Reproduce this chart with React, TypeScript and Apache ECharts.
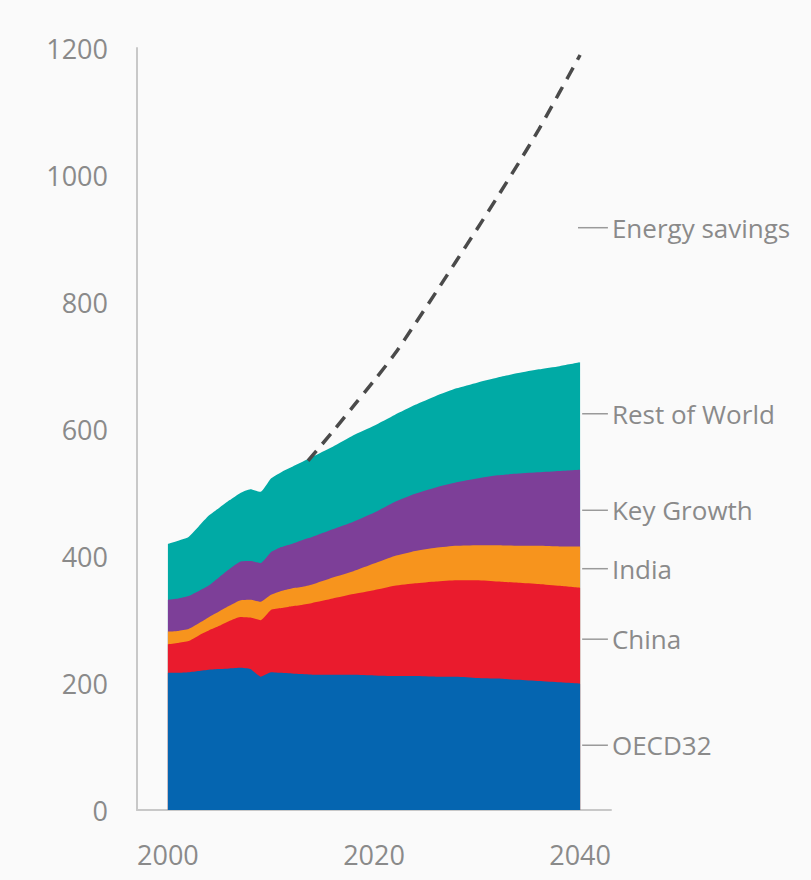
import React, { useEffect, useRef } from "react";
import * as echarts from "echarts";

const years = [2000, 2001, 2002, 2003, 2004, 2005, 2006, 2007, 2008, 2009, 2010, 2011, 2012, 2013, 2014, 2016, 2018, 2020, 2022, 2024, 2026, 2028, 2030, 2032, 2034, 2036, 2038, 2040];
const oecd32 = [216, 216, 217, 219, 221, 222, 223, 224, 222, 210, 217, 216, 215, 214, 213, 213, 213, 212, 211, 211, 210, 210, 208, 207, 205, 203, 201, 199];
const china = [45, 47, 49, 56, 62, 68, 75, 80, 81, 89, 98, 102, 106, 109, 113, 120, 127, 134, 142, 146, 150, 152, 154, 153, 153, 153, 152, 151];
const india = [20, 19, 19, 19, 21, 23, 24, 26, 28, 29, 24, 27, 28, 28, 29, 33, 36, 42, 47, 51, 53, 54, 55, 57, 58, 60, 62, 65];
const keyGrowth = [50, 51, 52, 51, 50, 54, 58, 61, 61, 61, 67, 69, 70, 74, 75, 76, 78, 80, 85, 90, 95, 100, 105, 110, 114, 116, 119, 121];
const restOfWorld = [88, 91, 93, 102, 110, 109, 108, 108, 113, 112, 116, 118, 121, 123, 126, 130, 136, 137, 137, 140, 144, 148, 151, 154, 158, 162, 165, 169];

const savingsYears = [2013.6, 2016, 2018, 2020, 2022, 2024, 2026, 2028, 2030, 2032, 2034, 2036, 2038, 2040];
const savingsValues = [550, 596, 636, 676, 718, 766, 815, 865, 915, 966, 1018, 1072, 1130, 1189];

const yTicks = [0, 200, 400, 600, 800, 1000, 1200];
const xTicks = [2000, 2020, 2040];

const labelNames = ["Energy savings", "Rest of World", "Key Growth", "India", "China", "OECD32"];
const labelValues = [917, 624, 472, 380, 269, 102];

const seriesNames = ["OECD32", "China", "India", "Key Growth", "Rest of World"];
const seriesColors = ["#0565b0", "#ea1b2d", "#f7941d", "#7d3f98", "#00aaa5"];

const FONT = "'Open Sans', 'DejaVu Sans', sans-serif";

export default function App() {
  const ref = useRef<HTMLDivElement>(null);
  useEffect(() => {
    if (!ref.current) return;
    const chart = echarts.init(ref.current, undefined, { renderer: "svg" });
    const stackData = [oecd32, china, india, keyGrowth, restOfWorld];
    // cumulative totals, built from the arrays above
    const cumulative: number[][] = [];
    stackData.forEach((arr, i) => {
      cumulative.push(arr.map((v, j) => v + (i > 0 ? cumulative[i - 1][j] : 0)));
    });
    const series: any[] = [];
    for (let i = stackData.length - 1; i >= 0; i--) {
      series.push({
        name: seriesNames[i],
        type: "line",
        data: years.map((y, j) => [y, cumulative[i][j]]),
        showSymbol: false,
        symbol: "none",
        lineStyle: { width: 0 },
        areaStyle: { color: seriesColors[i], opacity: 1, origin: "start" },
        itemStyle: { color: seriesColors[i] },
        smooth: 0.15,
        z: 2,
      });
    }
    series.push({
      name: "Energy savings",
      type: "line",
      data: savingsYears.map((y, j) => [y, savingsValues[j]]),
      showSymbol: false,
      symbol: "none",
      smooth: 0.3,
      lineStyle: { color: "#4a4a4a", width: 3.5, type: [13, 9] },
      z: 3,
    });
    chart.setOption({
      animation: false,
      backgroundColor: "#fafafa",
      grid: { left: 137, right: 200, top: 48, bottom: 70 },
      xAxis: {
        type: "value",
        min: 1997,
        max: 2043,
        axisLine: { show: true, lineStyle: { color: "#c8c8c8", width: 2 } },
        axisTick: { show: false },
        splitLine: { show: false },
        axisLabel: {
          customValues: xTicks,
          formatter: (v: number) => String(v),
          color: "#8a8a8a",
          fontSize: 27,
          fontFamily: FONT,
          margin: 31,
        },
      },
      yAxis: {
        type: "value",
        min: 0,
        max: 1200,
        interval: 200,
        axisLine: { show: true, lineStyle: { color: "#c8c8c8", width: 2 } },
        axisTick: { show: false },
        splitLine: { show: false },
        axisLabel: {
          customValues: yTicks,
          formatter: (v: number) => String(v),
          color: "#8a8a8a",
          fontSize: 27,
          fontFamily: FONT,
          margin: 29,
        },
      },
      series,
    });

    const graphics: any[] = [];
    labelNames.forEach((name, i) => {
      const p0 = chart.convertToPixel({ gridIndex: 0 }, [i === 0 ? 2039.8 : 2040.2, labelValues[i]]) as number[];
      const p1 = chart.convertToPixel({ gridIndex: 0 }, [2042.7, labelValues[i]]) as number[];
      graphics.push({
        type: "line",
        shape: { x1: p0[0], y1: p0[1], x2: p1[0], y2: p1[1] },
        style: { stroke: "#9a9a9a", lineWidth: 1.5 },
        z: 10,
      });
      graphics.push({
        type: "text",
        x: p1[0] + 4,
        y: p1[1],
        style: {
          text: name,
          fill: "#8a8a8a",
          fontSize: 26,
          fontFamily: FONT,
          verticalAlign: "middle",
          align: "left",
        },
        z: 10,
      });
    });
    chart.setOption({ graphic: graphics });
    return () => chart.dispose();
  }, []);
  return (
    <div
      ref={ref}
      style={{ position: "fixed", left: 0, top: 0, width: 811, height: 880, background: "#fafafa" }}
    />
  );
}
